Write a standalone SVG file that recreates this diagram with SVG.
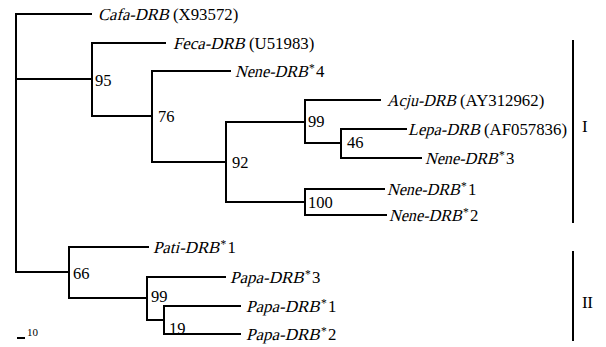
<svg xmlns="http://www.w3.org/2000/svg" width="606" height="347" viewBox="0 0 606 347">
<style>
.br{fill:none;stroke:#000;stroke-width:2;stroke-linecap:square}
text{font-family:'Liberation Serif',serif;font-size:16.8px;fill:#000}
.sup{font-size:11.5px}
.bs{font-size:16.5px}
.sm{font-size:11px}
.rn{font-size:17px}
</style>
<g id="connectors">
<path class="br" d="M16,14V272M16,14H91M16,79H92M16,272H69"/>
<path class="br" d="M92,43V116M92,43H165M92,116H152"/>
<path class="br" d="M152,71V162M152,71H230M152,162H226"/>
<path class="br" d="M226,122V202M226,122H305M226,202H305"/>
<path class="br" d="M305,100V143M305,100H380M305,143H341"/>
<path class="br" d="M341,129V158M341,129H406M341,158H421"/>
<path class="br" d="M305,189V215M305,189H384M305,215H386"/>
<path class="br" d="M69,247V298M69,247H148M69,298H147"/>
<path class="br" d="M147,277V320M147,277H225M147,320H164"/>
<path class="br" d="M164,306V334M164,306H240M164,334H240"/>
</g>
<g id="leaf-cafa">
<text transform="translate(98,20) skewX(-14)" textLength="70.9" lengthAdjust="spacingAndGlyphs">Cafa-DRB</text>
<text x="173" y="20">(X93572)</text>
</g>
<g id="leaf-feca">
<text transform="translate(173,49) skewX(-14)" textLength="71.8" lengthAdjust="spacingAndGlyphs">Feca-DRB</text>
<text x="249" y="49">(U51983)</text>
</g>
<g id="leaf-nene4">
<text transform="translate(235,77) skewX(-14)" textLength="72.8" lengthAdjust="spacingAndGlyphs">Nene-DRB</text>
<text class="sup" x="309" y="72">*</text>
<text x="316" y="77">4</text>
</g>
<g id="leaf-acju">
<text transform="translate(387,106) skewX(-14)" textLength="69" lengthAdjust="spacingAndGlyphs">Acju-DRB</text>
<text x="460" y="106">(AY312962)</text>
</g>
<g id="leaf-lepa">
<text transform="translate(408,135) skewX(-14)" textLength="71.9" lengthAdjust="spacingAndGlyphs">Lepa-DRB</text>
<text x="484" y="135">(AF057836)</text>
</g>
<g id="leaf-nene3">
<text transform="translate(425,164) skewX(-14)" textLength="72.8" lengthAdjust="spacingAndGlyphs">Nene-DRB</text>
<text class="sup" x="499" y="159">*</text>
<text x="506" y="164">3</text>
</g>
<g id="leaf-nene1">
<text transform="translate(387,195) skewX(-14)" textLength="72.8" lengthAdjust="spacingAndGlyphs">Nene-DRB</text>
<text class="sup" x="461" y="190">*</text>
<text x="468" y="195">1</text>
</g>
<g id="leaf-nene2">
<text transform="translate(389,221) skewX(-14)" textLength="72.8" lengthAdjust="spacingAndGlyphs">Nene-DRB</text>
<text class="sup" x="463" y="216">*</text>
<text x="470" y="221">2</text>
</g>
<g id="leaf-pati1">
<text transform="translate(153,253) skewX(-14)" textLength="66.3" lengthAdjust="spacingAndGlyphs">Pati-DRB</text>
<text class="sup" x="220.5" y="248">*</text>
<text x="227.5" y="253">1</text>
</g>
<g id="leaf-papa3">
<text transform="translate(230,283) skewX(-14)" textLength="73.7" lengthAdjust="spacingAndGlyphs">Papa-DRB</text>
<text class="sup" x="305" y="278">*</text>
<text x="312" y="283">3</text>
</g>
<g id="leaf-papa1">
<text transform="translate(246,312) skewX(-14)" textLength="73.7" lengthAdjust="spacingAndGlyphs">Papa-DRB</text>
<text class="sup" x="321" y="307">*</text>
<text x="328" y="312">1</text>
</g>
<g id="leaf-papa2">
<text transform="translate(246,340) skewX(-14)" textLength="73.7" lengthAdjust="spacingAndGlyphs">Papa-DRB</text>
<text class="sup" x="321" y="335">*</text>
<text x="328" y="340">2</text>
</g>
<g id="node-95"><text class="bs" x="95" y="86">95</text></g>
<g id="node-76"><text class="bs" x="158" y="122">76</text></g>
<g id="node-92"><text class="bs" x="232" y="168">92</text></g>
<g id="node-99a"><text class="bs" x="308" y="127">99</text></g>
<g id="node-46"><text class="bs" x="347" y="148">46</text></g>
<g id="node-100"><text class="bs" x="308" y="208">100</text></g>
<g id="node-66"><text class="bs" x="73" y="279">66</text></g>
<g id="node-99b"><text class="bs" x="151" y="302">99</text></g>
<g id="node-19"><text class="bs" x="169" y="334">19</text></g>
<g id="scale">
<path class="br" d="M18,338H24"/>
<text class="sm" x="27" y="336">10</text>
</g>
<g id="clade-I">
<path class="br" d="M573,41V222"/>
<text class="rn" x="582" y="132">I</text>
</g>
<g id="clade-II">
<path class="br" d="M573,252V340"/>
<text class="rn" x="582" y="308" style="letter-spacing:-0.5px">II</text>
</g>
</svg>
